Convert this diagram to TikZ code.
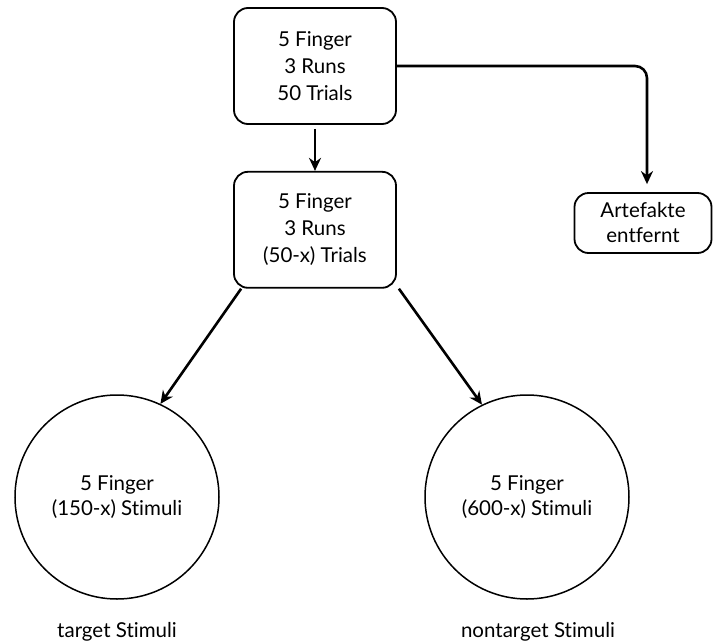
\documentclass[tikz,border=0pt]{standalone}
\usepackage{fontspec}
\setmainfont{Lato}[Ligatures=NoCommon]
\usetikzlibrary{arrows.meta,positioning}

\begin{document}
\begin{tikzpicture}[
x=1pt, y=-1pt,
node distance=46pt,
box/.style={draw, line width=1.8pt, rounded corners=14pt, minimum width=162pt, minimum height=116pt, align=center, font=\fontsize{20.5}{27}\selectfont},
small/.style={draw, line width=1.8pt, rounded corners=14pt, minimum width=137pt, minimum height=60pt, align=center, font=\fontsize{20.5}{25}\selectfont},
stim/.style={draw, circle, line width=1.5pt, minimum size=204pt, align=center, font=\fontsize{20.5}{25}\selectfont},
lbl/.style={font=\fontsize{20.5}{25}\selectfont},
arr/.style={-{Stealth[length=13pt,width=12pt]}, line width=2.6pt}
]
\useasboundingbox (0,0) rectangle (713,643);
\node[box] (raw) at (315,66) {5 Finger\\3 Runs\\50 Trials};
\node[box, below=of raw] (clean) {5 Finger\\3 Runs\\(50-x) Trials};
\node[small] (art) at (643,223) {Artefakte\\entfernt};
\node[stim] (target) at (117,497) {5 Finger\\(150-x) Stimuli};
\node[stim] (nontarget) at (527,497) {5 Finger\\(600-x) Stimuli};
\node[lbl] (tlbl) at (117,632) {target Stimuli};
\node[lbl] (nlbl) at (538,632) {nontarget Stimuli};

\draw[arr, shorten <=4pt] (raw) -- (clean);
\draw[arr, rounded corners=12pt, shorten >=8pt] (raw.east) -| ([xshift=4pt]art.north);
\draw[arr] ([xshift=8pt]clean.south west) -- (target.65);
\draw[arr] ([xshift=2pt]clean.south east) -- (nontarget.116);
\end{tikzpicture}
\end{document}
